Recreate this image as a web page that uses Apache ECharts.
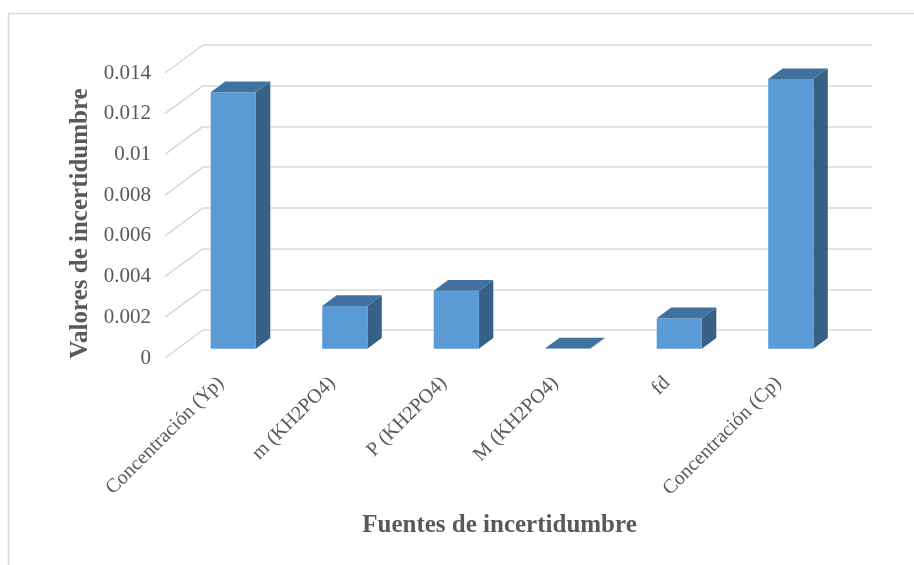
<!DOCTYPE html>
<html>
<head>
<meta charset="utf-8">
<script src="https://cdn.jsdelivr.net/npm/echarts@6/dist/echarts.min.js"></script>
<style>
html,body{margin:0;padding:0;background:#fff;}
#chart{width:914px;height:565px;}
</style>
</head>
<body>
<div id="chart"></div>
<script>
const categories = ['Concentración (Yp)', 'm (KH2PO4)', 'P (KH2PO4)', 'M (KH2PO4)', 'fd', 'Concentración (Cp)'];
const values = [0.0126, 0.0021, 0.00285, 0.00002, 0.0015, 0.01325];
const yTicks = [0, 0.002, 0.004, 0.006, 0.008, 0.01, 0.012, 0.014];
const yTitle = 'Valores de incertidumbre';
const xTitle = 'Fuentes de incertidumbre';

const DEPTH_X = 38, DEPTH_Y = -28;       // full depth of the 3D floor
const FRONT_F = 0.33, BACK_F = 0.71;     // bar position within the depth

const chart = echarts.init(document.getElementById('chart'));
const serif = 'Liberation Serif, Times New Roman, serif';
const grey = '#595959';

const option = {
  animation: false,
  backgroundColor: '#ffffff',
  graphic: [{
    type: 'rect', silent: true, z: -10,
    shape: {x: 8.5, y: 13.5, width: 1000, height: 1000},
    style: {fill: 'none', stroke: '#d9d9d9', lineWidth: 1.5}
  }],
  grid: [
    {left: 165, top: 73, width: 669, height: 285},
    {left: 203, top: 45, width: 669, height: 285}
  ],
  xAxis: [
    {
      type: 'category', gridIndex: 0, data: categories,
      axisLine: {show: false}, axisTick: {show: false},
      axisLabel: {interval: 0, rotate: 45, margin: 22, fontSize: 20, color: grey, fontFamily: serif},
      name: xTitle, nameLocation: 'middle', nameGap: 155,
      nameTextStyle: {fontSize: 25, fontWeight: 'bold', color: grey, fontFamily: serif}
    },
    {type: 'category', gridIndex: 1, data: categories, show: false}
  ],
  yAxis: [
    {
      type: 'value', gridIndex: 0, min: 0, max: 0.014, interval: 0.002,
      axisLine: {show: false}, axisTick: {show: false}, splitLine: {show: false},
      axisLabel: {margin: 14, fontSize: 21, color: grey, fontFamily: serif},
      name: yTitle, nameLocation: 'middle', nameGap: 70,
      nameTextStyle: {fontSize: 25, fontWeight: 'bold', color: grey, fontFamily: serif, padding: [0, 16, 0, 0]}
    },
    {
      type: 'value', gridIndex: 1, min: 0, max: 0.014, interval: 0.002,
      axisLine: {show: false}, axisTick: {show: false}, axisLabel: {show: false},
      splitLine: {show: true, lineStyle: {color: '#d9d9d9', width: 1.5}}
    }
  ],
  series: [
    {
      type: 'custom', xAxisIndex: 0, yAxisIndex: 0, silent: true, z: 1,
      data: yTicks.map(t => [0, t]),
      renderItem: function (params, api) {
        const y = api.coord([0, api.value(1)])[1];
        const x = params.coordSys.x;
        return {
          type: 'line',
          shape: {x1: x, y1: y, x2: x + DEPTH_X, y2: y + DEPTH_Y},
          style: {stroke: '#d9d9d9', lineWidth: 1.5}
        };
      }
    },
    {
      type: 'custom', xAxisIndex: 0, yAxisIndex: 0, z: 5,
      data: values.map((v, i) => [i, v]),
      renderItem: function (params, api) {
        const i = api.value(0), v = api.value(1);
        const base = api.coord([i, 0]);
        const top = api.coord([i, v]);
        const band = api.size([1, 0])[0];
        const w = band * 0.405;
        const ox = DEPTH_X * FRONT_F, oy = DEPTH_Y * FRONT_F;
        const dx = DEPTH_X * (BACK_F - FRONT_F), dy = DEPTH_Y * (BACK_F - FRONT_F);
        const xl = base[0] + ox - w / 2, xr = xl + w;
        const yb = base[1] + oy, yt = top[1] + oy;
        return {
          type: 'group',
          children: [
            {type: 'polygon', shape: {points: [[xr, yb], [xr + dx, yb + dy], [xr + dx, yt + dy], [xr, yt]]},
             style: {fill: '#386188'}},
            {type: 'rect', shape: {x: xl, y: yt, width: w, height: Math.max(yb - yt, 0)},
             style: {fill: '#5b9bd5'}},
            {type: 'polygon', shape: {points: [[xl, yt], [xr, yt], [xr + dx, yt + dy], [xl + dx, yt + dy]]},
             style: {fill: '#41729f'}}
          ]
        };
      }
    }
  ]
};
chart.setOption(option);
</script>
</body>
</html>
